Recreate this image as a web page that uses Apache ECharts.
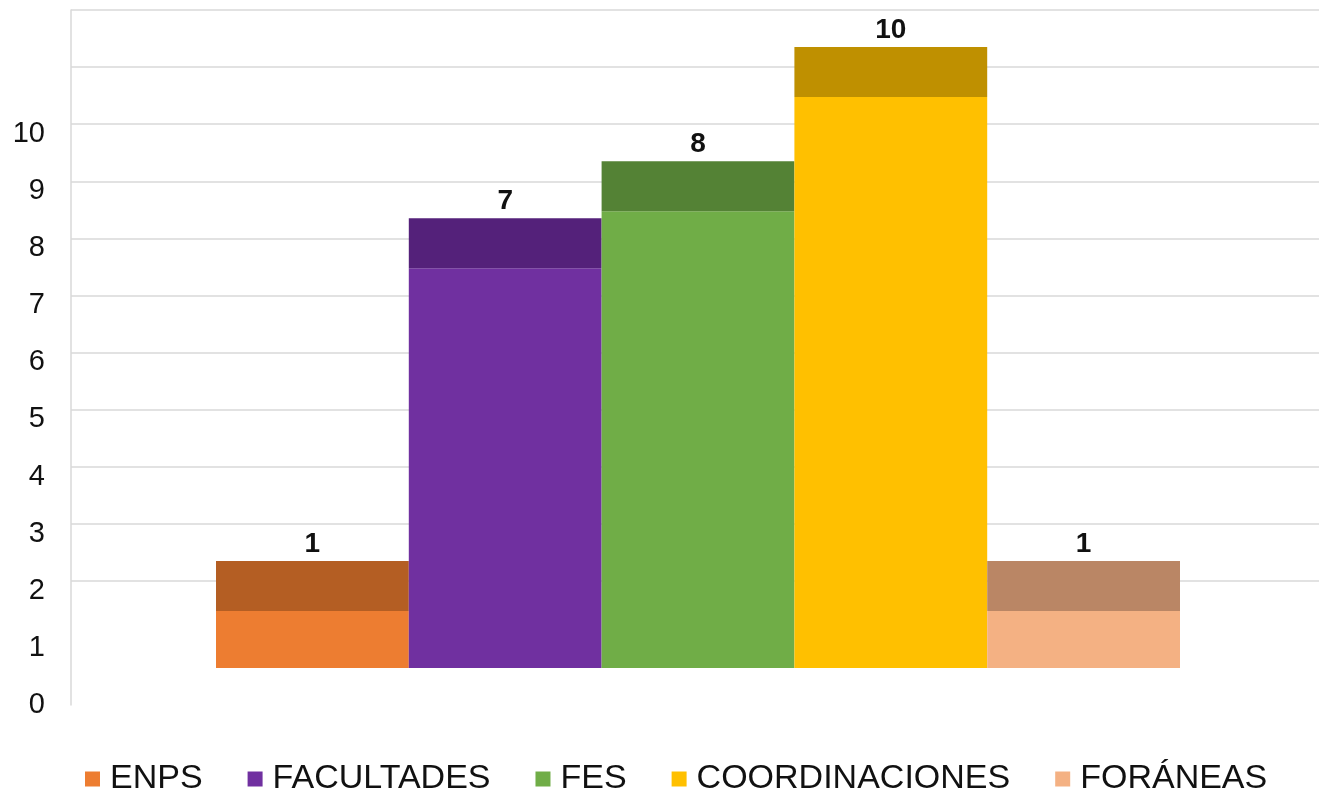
<!DOCTYPE html>
<html>
<head>
<meta charset="utf-8">
<script src="https://cdn.jsdelivr.net/npm/echarts@6/dist/echarts.min.js"></script>
<style>
  html, body { margin: 0; padding: 0; background: #fff; }
  #chart { width: 1319px; height: 795px; }
</style>
</head>
<body>
<div id="chart"></div>
<script>
const categories = ['ENPS', 'FACULTADES', 'FES', 'COORDINACIONES', 'FORÁNEAS']
const values = [1, 7, 8, 10, 1]
const axisTicks = [0, 1, 2, 3, 4, 5, 6, 7, 8, 9, 10]

const frontColors = ['#ED7D31', '#7030A0', '#70AD47', '#FFC000', '#F4B183']
const topColors = ['#B45E23', '#54217A', '#548235', '#BF9000', '#BA8665']
const depth = 50
const font = '"Liberation Sans", Arial, sans-serif'

const chart = echarts.init(document.getElementById('chart'))

const renderBar = (params, api) => {
  const base = api.coord([api.value(0), 0])
  const top = api.coord([api.value(0), api.value(1)])
  const w = api.size([1, 0])[0]
  const x = base[0] - w / 2
  const i = params.seriesIndex
  return {
    type: 'group',
    children: [
      {
        type: 'rect',
        shape: { x: x, y: top[1], width: w, height: base[1] - top[1] },
        style: { fill: frontColors[i] }
      },
      {
        type: 'rect',
        shape: { x: x, y: top[1] - depth, width: w, height: depth },
        style: { fill: topColors[i] }
      },
      {
        type: 'text',
        style: {
          text: String(api.value(1)),
          x: base[0],
          y: top[1] - depth - 3,
          align: 'center',
          verticalAlign: 'bottom',
          font: 'bold 28px ' + font,
          fill: '#111'
        }
      }
    ]
  }
}

const option = {
  backgroundColor: '#fff',
  animation: false,
  legend: {
    data: categories,
    left: 80,
    top: 757,
    icon: 'rect',
    itemWidth: 15,
    itemHeight: 15,
    itemGap: 45,
    textStyle: {
      fontFamily: font,
      fontSize: 34,
      color: '#111',
      padding: [0, 0, 0, 5]
    }
  },
  grid: [
    // back wall with axis labels
    { left: 71, right: 0, top: 10, bottom: 90 },
    // gridlines on the back wall
    { left: 71, right: 0, top: 10, bottom: 214 },
    // bars
    { left: 216, right: 139, top: 40, bottom: 127 }
  ],
  xAxis: [
    { gridIndex: 0, type: 'value', show: false },
    { gridIndex: 1, type: 'value', show: false },
    { gridIndex: 2, type: 'category', data: categories, show: false }
  ],
  yAxis: [
    {
      gridIndex: 0,
      type: 'value',
      min: 0,
      max: 12.17,
      interval: 1,
      axisLine: { show: true, lineStyle: { color: '#D9D9D9', width: 1.5 } },
      axisTick: { show: false },
      splitLine: { show: false },
      axisLabel: {
        margin: 26,
        fontFamily: font,
        fontSize: 29,
        color: '#111',
        formatter: v => (axisTicks.includes(v) ? String(v) : '')
      }
    },
    {
      gridIndex: 1,
      type: 'value',
      min: 2,
      max: 12,
      interval: 1,
      axisLine: { show: false },
      axisTick: { show: false },
      axisLabel: { show: false },
      splitLine: { show: true, lineStyle: { color: '#D9D9D9', width: 1.5 } }
    },
    { gridIndex: 2, type: 'value', min: 0, max: 11, show: false }
  ],
  series: categories.map((name, i) => ({
    name: name,
    type: 'custom',
    xAxisIndex: 2,
    yAxisIndex: 2,
    itemStyle: { color: frontColors[i] },
    encode: { x: 0, y: 1 },
    renderItem: renderBar,
    data: [[i, values[i]]]
  }))
}

chart.setOption(option)
</script>
</body>
</html>
